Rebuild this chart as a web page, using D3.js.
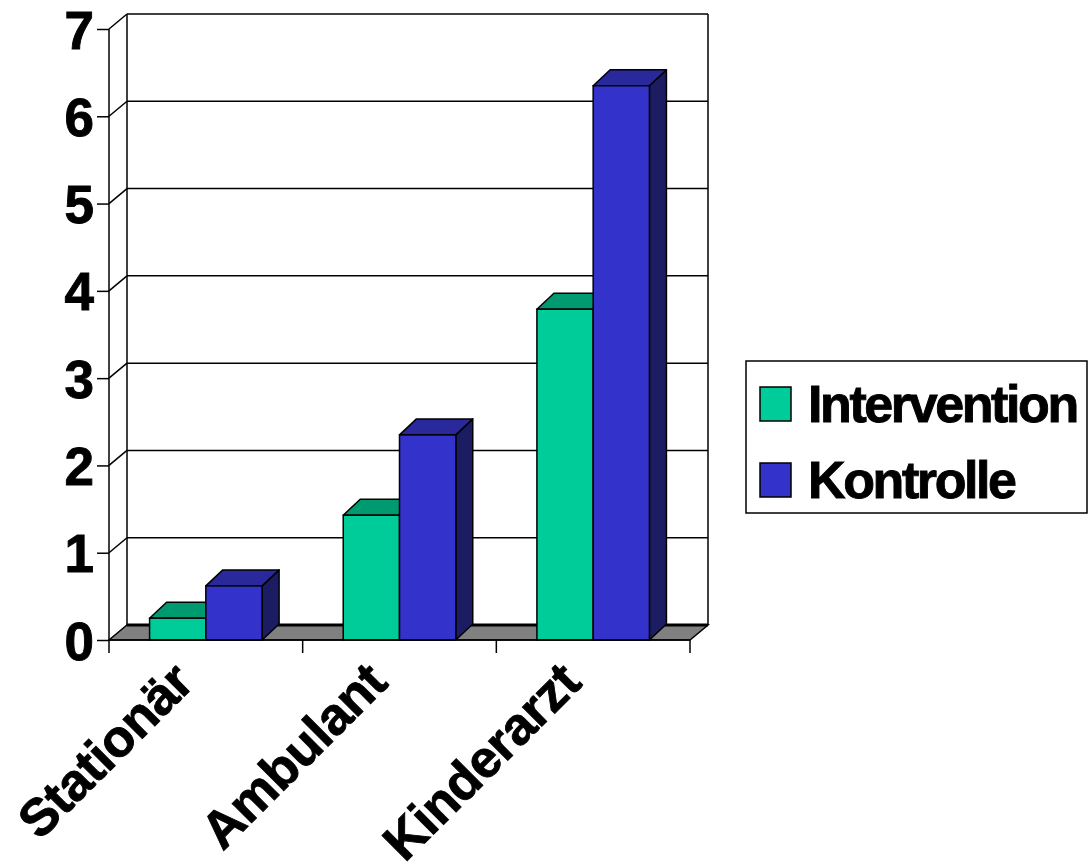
<!DOCTYPE html>
<html>
<head>
<meta charset="utf-8">
<script src="https://cdn.jsdelivr.net/npm/d3@7"></script>
<style>
  html, body { margin: 0; padding: 0; background: #fff; }
  svg { display: block; }
  text { font-family: "Liberation Sans", Arial, sans-serif; font-weight: bold; fill: #000; stroke: #000; stroke-width: 0.9px; }
</style>
</head>
<body>
<script>
// Besuche je Kind nach Versorgungsart
const categories = ["Stationär", "Ambulant", "Kinderarzt"];
const seriesNames = ["Intervention", "Kontrolle"];
const intervention = [0.25, 1.43, 3.79];
const kontrolle = [0.62, 2.35, 6.35];
const yTicks = [0, 1, 2, 3, 4, 5, 6, 7];

const W = 1088, H = 866;
const svg = d3.select("body").append("svg").attr("width", W).attr("height", H);

// front plane of the plot
const plotLeft = 109, plotRight = 690, plotBottom = 640, plotTop = 29;
// depth offset of back wall / floor, and of the bar boxes
const wallDx = 18, wallDy = -15;
const barDx = 17, barDy = -16;

const x = d3.scaleBand().domain(categories).range([plotLeft, plotRight])
  .paddingInner(0.419).paddingOuter(0.2095);
const xs = d3.scaleBand().domain(seriesNames).range([0, x.bandwidth()]);
const y = d3.scaleLinear().domain([0, 7]).range([plotBottom, plotTop]);

const colors = {
  Intervention: { front: "#00CC99", top: "#009A70", side: "#007A58" },
  Kontrolle:    { front: "#3333CC", top: "#29299B", side: "#1C1C63" }
};

const g = svg.append("g");

// back wall gridlines
g.selectAll("line.grid").data(yTicks.filter(d => d > 0)).join("line")
  .attr("x1", plotLeft + wallDx).attr("x2", plotRight + wallDx)
  .attr("y1", d => y(d) + wallDy).attr("y2", d => y(d) + wallDy)
  .attr("stroke", "#000").attr("stroke-width", 1.5);

// side wall gridlines (diagonals)
g.selectAll("line.side").data(yTicks.filter(d => d > 0)).join("line")
  .attr("x1", plotLeft).attr("y1", d => y(d))
  .attr("x2", plotLeft + wallDx).attr("y2", d => y(d) + wallDy)
  .attr("stroke", "#000").attr("stroke-width", 1.5);

// back wall vertical edges
[plotLeft + wallDx, plotRight + wallDx].forEach(xx => {
  g.append("line").attr("x1", xx).attr("x2", xx)
    .attr("y1", y(7) + wallDy).attr("y2", y(0) + wallDy)
    .attr("stroke", "#000").attr("stroke-width", 1.5);
});

// floor
g.append("path")
  .attr("d", `M${plotLeft},${y(0)} L${plotRight},${y(0)} L${plotRight + wallDx},${y(0) + wallDy} L${plotLeft + wallDx},${y(0) + wallDy} Z`)
  .attr("fill", "#808080").attr("stroke", "#000").attr("stroke-width", 1.5);
g.append("line")
  .attr("x1", plotLeft + wallDx).attr("x2", plotRight + wallDx)
  .attr("y1", y(0) + wallDy).attr("y2", y(0) + wallDy)
  .attr("stroke", "#000").attr("stroke-width", 3);

// bars
const rows = categories.map((c, i) => ({
  cat: c,
  vals: [
    { s: "Intervention", v: intervention[i] },
    { s: "Kontrolle", v: kontrolle[i] }
  ]
}));

rows.forEach(row => {
  row.vals.forEach(d => {
    const x0 = x(row.cat) + xs(d.s), x1 = x0 + xs.bandwidth();
    const yt = y(d.v), yb = y(0);
    const col = colors[d.s];
    const bg = g.append("g");
    bg.append("path")
      .attr("d", `M${x1},${yt} L${x1 + barDx},${yt + barDy} L${x1 + barDx},${yb + barDy} L${x1},${yb} Z`)
      .attr("fill", col.side).attr("stroke", "#000").attr("stroke-width", 1.5).attr("stroke-linejoin", "round");
    bg.append("path")
      .attr("d", `M${x0},${yt} L${x0 + barDx},${yt + barDy} L${x1 + barDx},${yt + barDy} L${x1},${yt} Z`)
      .attr("fill", col.top).attr("stroke", "#000").attr("stroke-width", 1.5).attr("stroke-linejoin", "round");
    bg.append("rect")
      .attr("x", x0).attr("y", yt).attr("width", x1 - x0).attr("height", yb - yt)
      .attr("fill", col.front).attr("stroke", "#000").attr("stroke-width", 1.5);
  });
});

// front y axis
g.append("line").attr("x1", plotLeft).attr("x2", plotLeft).attr("y1", y(7)).attr("y2", y(0))
  .attr("stroke", "#000").attr("stroke-width", 1.5);
g.append("line").attr("x1", plotLeft).attr("x2", plotRight).attr("y1", y(0)).attr("y2", y(0))
  .attr("stroke", "#000").attr("stroke-width", 1.5);

const yAxis = d3.axisLeft(y).tickValues(yTicks).tickSize(12).tickPadding(3).tickFormat(d3.format("d"));
const ya = g.append("g").attr("transform", `translate(${plotLeft},0)`).call(yAxis);
ya.select(".domain").remove();
ya.selectAll(".tick line").attr("stroke", "#000").attr("stroke-width", 1.5);
ya.selectAll(".tick text").attr("font-size", 53).attr("font-family", "Liberation Sans, Arial, sans-serif")
  .attr("font-weight", "bold").attr("fill", "#000").attr("dy", "0.36em");

// category ticks at band boundaries
const bounds = categories.map(c => x(c) - x.step() * x.paddingInner() / 2);
bounds.push(plotRight);
bounds[0] = plotLeft;
g.selectAll("line.ctick").data(bounds).join("line")
  .attr("x1", d => d).attr("x2", d => d).attr("y1", y(0)).attr("y2", y(0) + 13)
  .attr("stroke", "#000").attr("stroke-width", 1.5);

// rotated category labels
g.selectAll("text.cat").data(categories).join("text")
  .attr("transform", d => `translate(${x(d) + x.bandwidth() / 2 - 10},685) rotate(-45)`)
  .attr("text-anchor", "end")
  .attr("font-size", 52)
  .attr("letter-spacing", -0.5)
  .text(d => d);

// legend
const lg = svg.append("g");
lg.append("rect").attr("x", 746).attr("y", 361).attr("width", 341).attr("height", 152)
  .attr("fill", "#fff").attr("stroke", "#000").attr("stroke-width", 1.5);
seriesNames.forEach((s, i) => {
  const yy = 387 + i * 76;
  lg.append("rect").attr("x", 760).attr("y", yy).attr("width", 31).attr("height", 34)
    .attr("fill", colors[s].front).attr("stroke", "#000").attr("stroke-width", 1.5);
  lg.append("text").attr("x", 808).attr("y", yy + 35)
    .attr("font-size", 52).attr("letter-spacing", -2.4).text(s);
});
</script>
</body>
</html>
